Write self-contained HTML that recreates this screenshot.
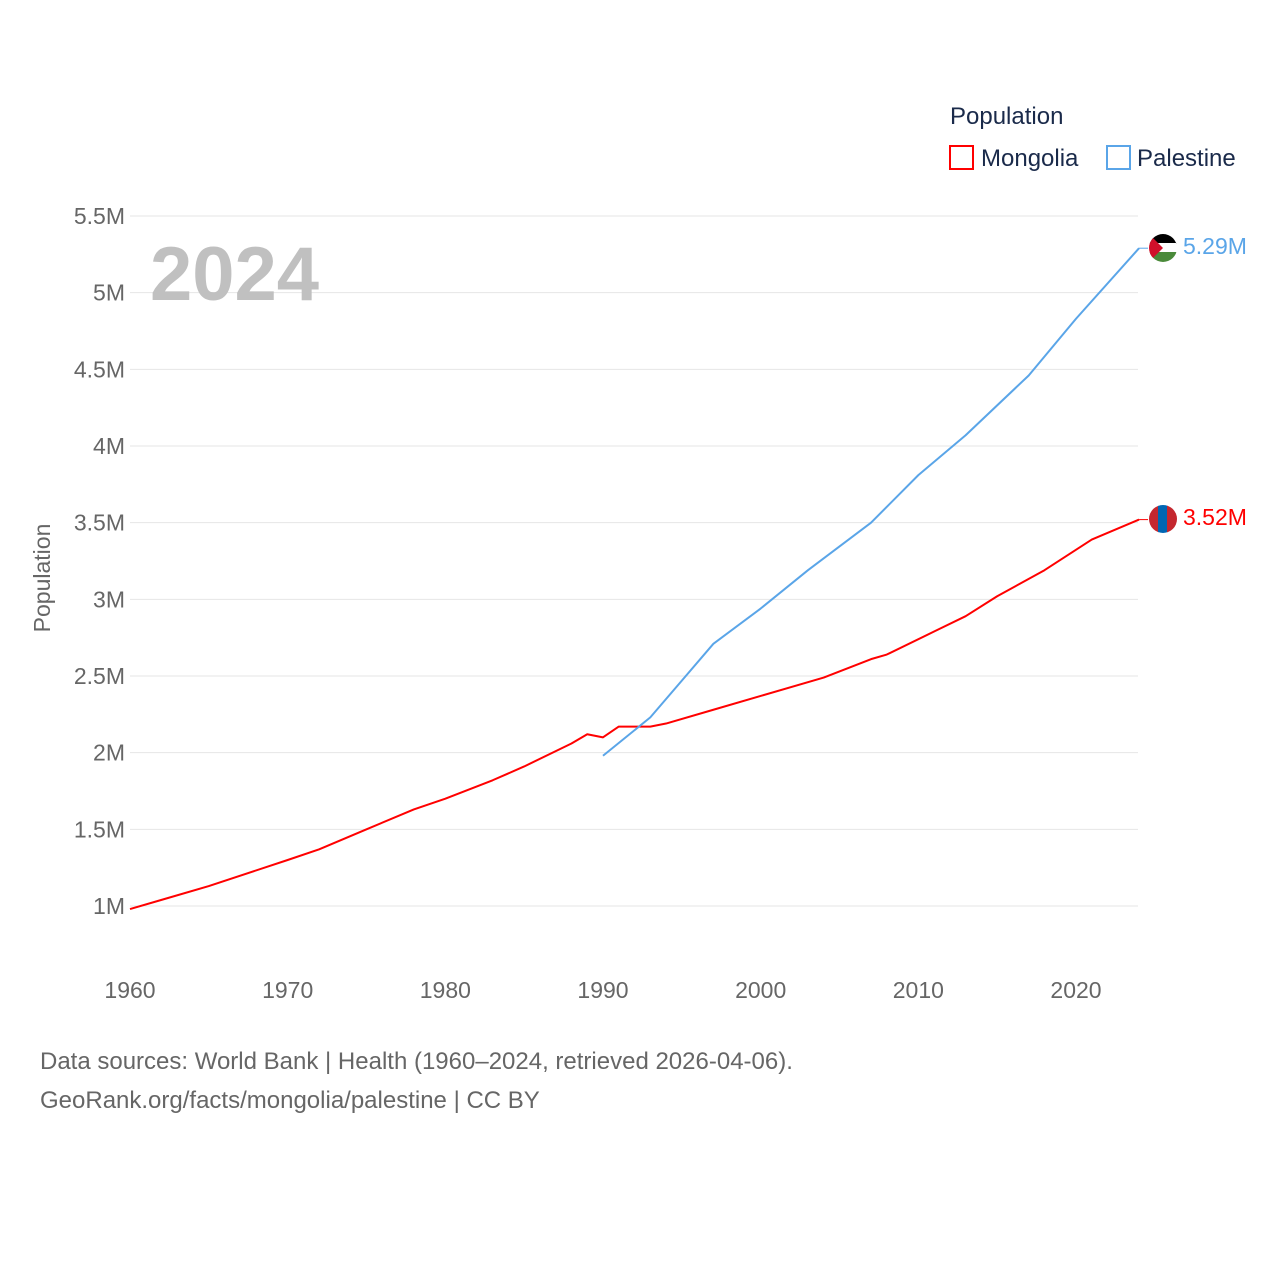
<!DOCTYPE html>
<html><head><meta charset="utf-8"><style>
body{margin:0;background:#fff;font-family:"Liberation Sans",sans-serif}
svg text{font-family:"Liberation Sans",sans-serif}
</style></head><body>
<svg width="1280" height="1280">
<g id="grid"></g>
<g id="yt"></g>
<g id="xt"></g>
<text x="150" y="300" font-size="76" font-weight="bold" fill="#c0c0c0">2024</text>
<text transform="translate(50,578) rotate(-90)" text-anchor="middle" font-size="23" fill="#666">Population</text>
<g id="series"></g>
<text x="950" y="124" font-size="24" fill="#1a2a4a">Population</text>
<g><rect x="950" y="146" width="23" height="23" fill="none" stroke="red" stroke-width="2"/><text x="981" y="166" font-size="24" fill="#1a2a4a">Mongolia</text></g>
<g><rect x="1107" y="146" width="23" height="23" fill="none" stroke="#5aa5e8" stroke-width="2"/><text x="1137" y="166" font-size="24" fill="#1a2a4a">Palestine</text></g>
<g>
<clipPath id="cp"><circle cx="1163" cy="248" r="14"/></clipPath>
<g clip-path="url(#cp)"><rect x="1149" y="234" width="28" height="10" fill="#000"/><rect x="1149" y="243" width="28" height="10" fill="#fff"/><rect x="1149" y="252" width="28" height="10" fill="#4a8a3a"/><polygon points="1149,234 1163,248 1149,262" fill="#d0102a"/></g></g>
<g>
<clipPath id="cm"><circle cx="1163" cy="519" r="14"/></clipPath>
<g clip-path="url(#cm)"><rect x="1149" y="505" width="10" height="28" fill="#c4272f"/><rect x="1158" y="505" width="10" height="28" fill="#0066b3"/><rect x="1167" y="505" width="10" height="28" fill="#c4272f"/></g></g>
<text x="1183" y="254" font-size="23" fill="#5aa5e8">5.29M</text>
<text x="1183" y="525" font-size="23" fill="red">3.52M</text>
<text x="40" y="1069" font-size="24" fill="#666">Data sources: World Bank | Health (1960–2024, retrieved 2026-04-06).</text>
<text x="40" y="1108" font-size="24" fill="#666">GeoRank.org/facts/mongolia/palestine | CC BY</text>
</svg>
<script>
const yTicks=[1,1.5,2,2.5,3,3.5,4,4.5,5,5.5];
const yTickLabels=["1M","1.5M","2M","2.5M","3M","3.5M","4M","4.5M","5M","5.5M"];
const xTicks=[1960,1970,1980,1990,2000,2010,2020];
const mongoliaYears=[1960,1962,1965,1970,1972,1975,1978,1980,1983,1985,1988,1989,1990,1991,1993,1994,1997,2000,2004,2007,2008,2011,2013,2015,2018,2021,2024];
const mongoliaValues=[0.98,1.04,1.13,1.30,1.37,1.50,1.63,1.70,1.82,1.91,2.06,2.12,2.10,2.17,2.17,2.19,2.28,2.37,2.49,2.61,2.64,2.79,2.89,3.02,3.19,3.39,3.52];
const palestineYears=[1990,1993,1995,1997,2000,2003,2007,2010,2013,2017,2020,2024];
const palestineValues=[1.98,2.23,2.47,2.71,2.94,3.19,3.50,3.81,4.07,4.46,4.83,5.29];
const X=y=>130+(y-1960)*(946/60);
const Y=v=>906-(v-1)*(690/4.5);
const NS="http://www.w3.org/2000/svg";
function mk(t,a,p){const e=document.createElementNS(NS,t);for(const k in a)e.setAttribute(k,a[k]);p.appendChild(e);return e;}
const grid=document.getElementById('grid'),yt=document.getElementById('yt'),xt=document.getElementById('xt'),ser=document.getElementById('series');
yTicks.forEach((v,i)=>{
const l=mk('line',{x1:130,x2:1138,y1:Y(v),y2:Y(v),stroke:'#e6e6e6','stroke-width':1},grid);


const t=mk('text',{x:125,y:Y(v)+8,'text-anchor':'end','font-size':23,fill:'#666'},yt);
t.textContent=yTickLabels[i];


});
xTicks.forEach(v=>{
const t=mk('text',{x:X(v),y:998,'text-anchor':'middle','font-size':23,fill:'#666'},xt);
t.textContent=v;


});
function line(ys,vs,c,name){
const p=mk('polyline',{points:ys.map((y,i)=>X(y)+','+Y(vs[i])).join(' '),fill:'none',stroke:c,'stroke-width':2,'stroke-linejoin':'round'},ser);


const last=vs[vs.length-1];
const d=mk('line',{x1:X(ys[ys.length-1]),x2:1148,y1:Y(last),y2:Y(last),stroke:c,'stroke-width':1},ser);


}
line(mongoliaYears,mongoliaValues,'red','line-mongolia');
line(palestineYears,palestineValues,'#5aa5e8','line-palestine');
</script>
</body></html>
